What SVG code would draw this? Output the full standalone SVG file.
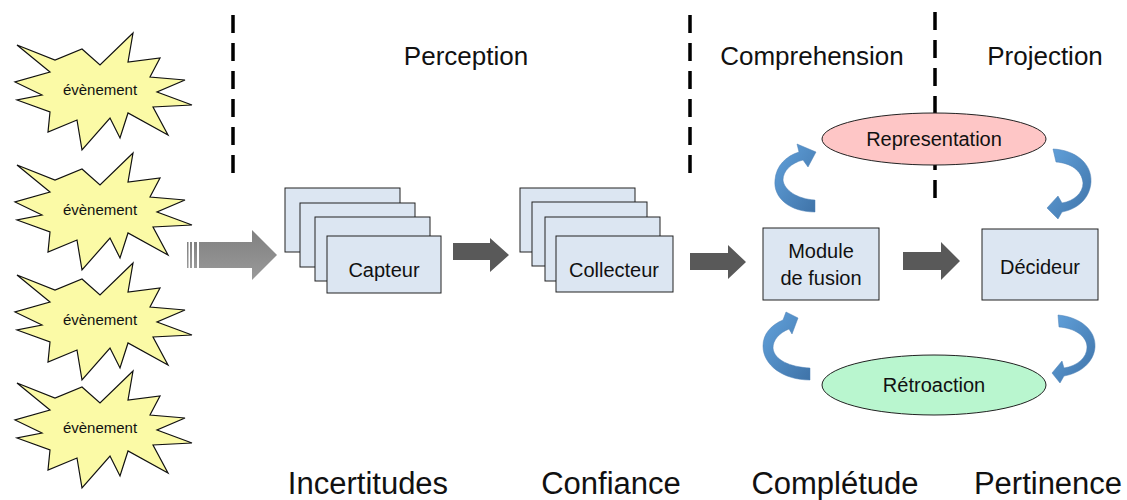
<svg xmlns="http://www.w3.org/2000/svg" width="1127" height="500" viewBox="0 0 1127 500">
<defs>
<style>
text{font-family:"Liberation Sans",Arial,sans-serif;fill:#111;text-anchor:middle}
.hdr{font-size:26px}
.bot{font-size:31px}
.box{fill:#dce6f2;stroke:#222;stroke-width:1}
.star{fill:#fbfaa6;stroke:#111;stroke-width:1.2}
.dash{stroke:#000;stroke-width:3.5;stroke-dasharray:18 10;fill:none}
.dark{fill:#595959}
.curv{fill:url(#blue);stroke:#4a7fb5;stroke-width:0.5}
.lbl{font-size:20px}
.ev{font-size:15px}
</style>
<linearGradient id="blue" x1="0" y1="0" x2="1" y2="1">
<stop offset="0" stop-color="#62a2dc"/>
<stop offset="1" stop-color="#3f73a8"/>
</linearGradient>
<linearGradient id="gray" x1="0" y1="0" x2="0" y2="1">
<stop offset="0" stop-color="#808080"/>
<stop offset="1" stop-color="#9a9a9a"/>
</linearGradient>
<path id="starShape" d="M17 45 L55 60 L82 49 L100 65 L133 33 L128 62 L160 58 L150 77 L185 80 L157 92 L192 105 L153 107 L168 135 L128 113 L120 138 L110 118 L82 150 L77 120 L48 132 L50 112 L17 100 L42 95 L15 82 L50 72 Z"/>
</defs>

<g id="dividers">
<line class="dash" x1="233" y1="15" x2="233" y2="175"/>
<line class="dash" x1="690" y1="15" x2="690" y2="175"/>
<line class="dash" x1="935" y1="12" x2="935" y2="200"/>
</g>

<g id="headers">
<text class="hdr" x="466" y="65">Perception</text>
<text class="hdr" x="812" y="65">Comprehension</text>
<text class="hdr" x="1045" y="65">Projection</text>
</g>

<g id="event1"><use href="#starShape" class="star"/><text class="ev" x="100" y="95">évènement</text></g>
<g id="event2" transform="translate(0,120)"><use href="#starShape" class="star"/><text class="ev" x="100" y="95">évènement</text></g>
<g id="event3" transform="translate(0,230)"><use href="#starShape" class="star"/><text class="ev" x="100" y="95">évènement</text></g>
<g id="event4" transform="translate(0,338)"><use href="#starShape" class="star"/><text class="ev" x="100" y="95">évènement</text></g>

<g id="connectors">
<g id="input-arrow" fill="url(#gray)">
<rect x="187" y="242" width="1.5" height="26"/>
<rect x="190" y="242" width="2" height="26"/>
<rect x="194" y="242" width="3" height="26"/>
<path d="M199 242 H252 V230 L277 255 L252 280 V268 H199 Z"/>
</g>
<path class="dark" d="M453 243 H490 V238 L509 255 L490 272 V260 H453 Z"/>
<path class="dark" d="M690 253 H728 V245 L746 262 L728 279 V270 H690 Z"/>
<path class="dark" d="M903 252 H941 V242 L960 261 L941 280 V270 H903 Z"/>
<path class="curv" d="M815 212 C790 212 773 198 775 180 C776 166 786 156 799 152 L797 144 L816 152 L808 167 L803 160 C791 163 783 171 783 180 C784 190 797 199 815 200 Z"/>
<path class="curv" d="M1053 149 C1075 150 1092 163 1091 182 C1090 198 1078 209 1062 212 L1058 219 L1047 208 L1058 196 L1062 203 C1074 201 1083 193 1083 183 C1082 170 1070 163 1056 162 Z"/>
<path class="curv" d="M810 380 C783 380 763 365 763 346 C763 334 771 325 783 320 L786 312 L798 318 L792 334 L789 329 C779 333 773 340 773 348 C774 360 790 367 810 368 Z"/>
<path class="curv" d="M1058 315 C1080 317 1096 330 1095 347 C1094 362 1081 373 1064 376 L1060 383 L1052 373 L1062 361 L1064 368 C1077 366 1087 358 1087 347 C1087 336 1074 328 1059 327 Z"/>
</g>

<g id="capteur">
<rect class="box" x="285" y="188" width="115" height="64"/>
<rect class="box" x="300" y="203" width="115" height="64"/>
<rect class="box" x="315" y="217" width="115" height="64"/>
<rect class="box" x="327" y="236" width="114" height="57"/>
<text class="lbl" x="384" y="277">Capteur</text>
</g>

<g id="collecteur">
<rect class="box" x="520" y="188" width="115" height="64"/>
<rect class="box" x="532" y="202" width="115" height="64"/>
<rect class="box" x="545" y="217" width="115" height="64"/>
<rect class="box" x="556" y="236" width="117" height="56"/>
<text class="lbl" x="614" y="277">Collecteur</text>
</g>

<g id="fusion">
<rect class="box" x="763" y="228" width="116" height="72"/>
<text class="lbl" x="821" y="258">Module</text>
<text class="lbl" x="821" y="285">de fusion</text>
</g>

<g id="decideur">
<rect class="box" x="982" y="229" width="116" height="71"/>
<text class="lbl" x="1040" y="274">Décideur</text>
</g>

<g id="representation">
<ellipse cx="934" cy="139" rx="112" ry="26" fill="#fec6c6" stroke="#222" stroke-width="1"/>
<text class="lbl" x="934" y="146">Representation</text>
</g>

<g id="retroaction">
<ellipse cx="934" cy="385" rx="112" ry="30" fill="#b9f6cf" stroke="#222" stroke-width="1"/>
<text class="lbl" x="934" y="392">Rétroaction</text>
</g>

<g id="qualities">
<text class="bot" x="368" y="494">Incertitudes</text>
<text class="bot" x="611" y="494">Confiance</text>
<text class="bot" x="835" y="494">Complétude</text>
<text class="bot" x="1048" y="494">Pertinence</text>
</g>
</svg>
